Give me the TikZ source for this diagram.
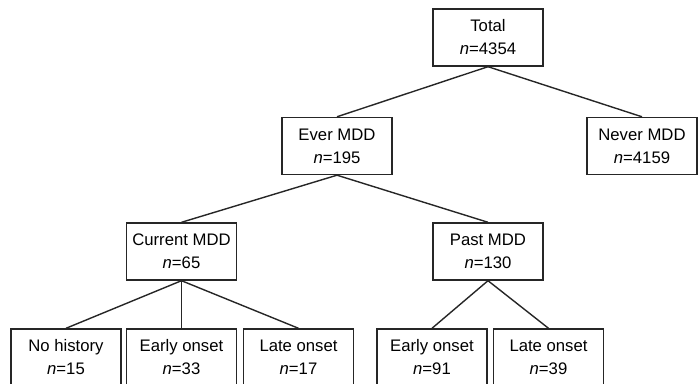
\documentclass[tikz,border=0pt]{standalone}
\usepackage{fontspec}
\setmainfont{Liberation Sans}
\colorlet{box edge}{black!85}
\tikzset{group/.style={draw=box edge, line width=0.7pt, minimum width=55pt,
      minimum height=28.5pt, inner sep=0pt, align=center,
      font=\fontsize{8.35}{11.5}\selectfont},
    split/.style={draw=box edge, line width=0.7pt}}
\newcommand{\nval}[1]{\textit{n}=#1}

\begin{document}
\begin{tikzpicture}[x=0.5pt,y=-0.5pt]
    \useasboundingbox (0,0) rectangle (698,384);
    % top levels
    \node[group] (total) at (488,37.5) {Total\\\nval{4354}};
    \node[group] (ever) at (337,146) {Ever MDD\\\nval{195}};
    \node[group] (never) at (642,146) {Never MDD\\\nval{4159}};
    \node[group] (current) at (181.5,251.5) {Current MDD\\\nval{65}};
    \node[group] (past) at (488,251.5) {Past MDD\\\nval{130}};
    % bottom row
    \node[group] (nohist) at (66,357.5) {No history\\\nval{15}};
    \node[group] (earlyc) at (181.5,357.5) {Early onset\\\nval{33}};
    \node[group] (latec) at (298.5,357.5) {Late onset\\\nval{17}};
    \node[group] (earlyp) at (432,357.5) {Early onset\\\nval{91}};
    \node[group] (latep) at (548.5,357.5) {Late onset\\\nval{39}};
    \draw[split] (total.south) -- (ever.north);
    \draw[split] (total.south) -- (never.north);
    \draw[split] (ever.south) -- (current.north);
    \draw[split] (ever.south) -- (past.north);
    \draw[split] (current.south) -- (nohist.north);
    \draw[split] (current.south) -- (earlyc.north);
    \draw[split] (current.south) -- (latec.north);
    \draw[split] (past.south) -- (earlyp.north);
    \draw[split] (past.south) -- (latep.north);
\end{tikzpicture}
\end{document}
